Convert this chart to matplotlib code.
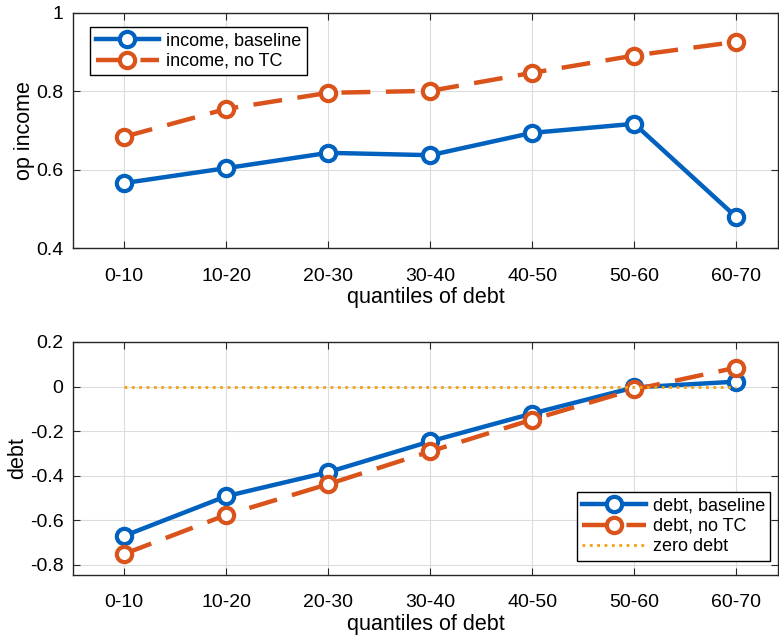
import matplotlib.pyplot as plt

plt.rcParams['font.family'] = ['Liberation Sans', 'DejaVu Sans']

groups = ['0-10', '10-20', '20-30', '30-40', '40-50', '50-60', '60-70']
income_base = [0.566, 0.604, 0.643, 0.637, 0.694, 0.717, 0.479]
income_notc = [0.684, 0.755, 0.796, 0.801, 0.847, 0.891, 0.926]
debt_base = [-0.670, -0.492, -0.384, -0.246, -0.121, -0.004, 0.022]
debt_notc = [-0.751, -0.576, -0.438, -0.291, -0.148, -0.013, 0.085]
zero_debt = [0, 0, 0, 0, 0, 0, 0]

blue = '#0062BE'
red = '#D9531A'
yellow = '#F2A10E'
dash = (0, (6.5, 3.5))

x = list(range(1, len(groups) + 1))

fig = plt.figure(figsize=(7.79, 6.38), dpi=100)
ax1 = fig.add_axes([0.094, 0.611, 0.905, 0.369])
ax2 = fig.add_axes([0.094, 0.099, 0.905, 0.365])

line_kw = dict(lw=3.2, marker='o', ms=11, mfc='white', mew=3)
leg_kw = dict(fontsize=13, fancybox=False, edgecolor='black', framealpha=1,
              handlelength=3.5, borderpad=0.3, labelspacing=0.2,
              handletextpad=0.4, borderaxespad=0)

ax1.plot(x, income_base, color=blue, label='income, baseline', **line_kw)
ax1.plot(x, income_notc, color=red, ls=dash, label='income, no TC', **line_kw)
ax1.set_ylim(0.4, 1.0)
ax1.set_yticks([0.4, 0.6, 0.8, 1.0])
ax1.set_yticklabels(['0.4', '0.6', '0.8', '1'])
ax1.set_ylabel('op income', fontsize=15.5, labelpad=1)
ax1.legend(loc='upper left', bbox_to_anchor=(0.024, 0.94), **leg_kw)

ax2.plot(x, debt_base, color=blue, label='debt, baseline', **line_kw)
ax2.plot(x, debt_notc, color=red, ls=dash, label='debt, no TC', **line_kw)
ax2.plot(x, zero_debt, color=yellow, ls=':', lw=2, label='zero debt')
ax2.set_ylim(-0.845, 0.2)
ax2.set_yticks([-0.8, -0.6, -0.4, -0.2, 0, 0.2])
ax2.set_yticklabels(['-0.8', '-0.6', '-0.4', '-0.2', '0', '0.2'])
ax2.set_ylabel('debt', fontsize=15.5, labelpad=1)
ax2.legend(loc='lower right', bbox_to_anchor=(0.989, 0.06), **leg_kw)

for ax in (ax1, ax2):
    ax.set_xlim(0.5, 7.41)
    ax.set_xticks(x)
    ax.set_xticklabels(groups)
    ax.set_xlabel('quantiles of debt', fontsize=15.5, labelpad=2)
    ax.grid(True, color='#dcdcdc', lw=0.8)
    ax.set_axisbelow(True)
    ax.tick_params(direction='in', top=True, right=True, labelsize=14, length=5,
                   color='#262626')
    ax.tick_params(axis='x', pad=14)
    ax.tick_params(axis='y', pad=7)
    for s in ax.spines.values():
        s.set_color('#262626')
        s.set_linewidth(1)

fig.savefig('out.png', dpi=100)
